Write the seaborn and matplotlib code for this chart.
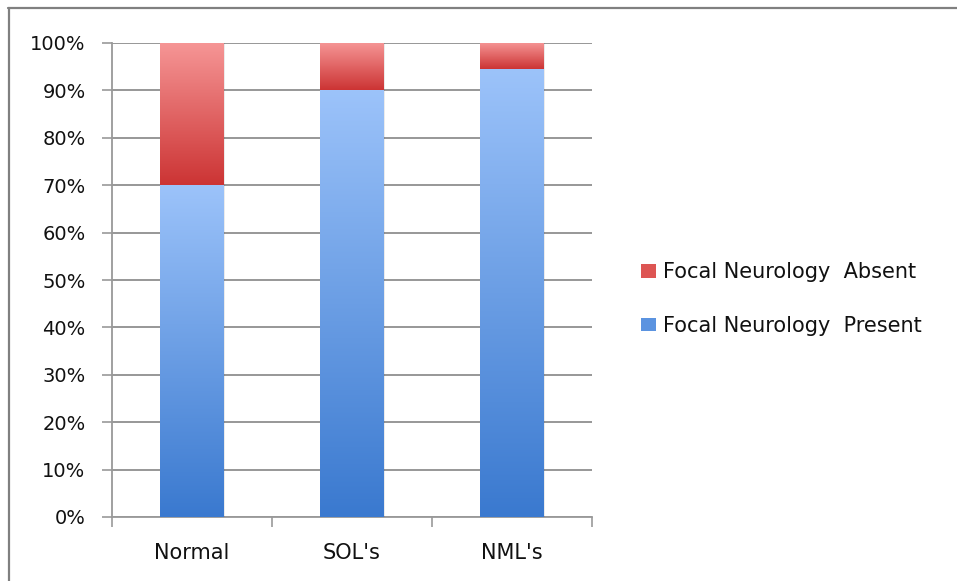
import numpy as np
import pandas as pd
import matplotlib
matplotlib.use("Agg")
import matplotlib.pyplot as plt
from matplotlib.colors import LinearSegmentedColormap
from matplotlib.lines import Line2D
from matplotlib.patches import Patch
import seaborn as sns

categories = ["Normal", "SOL's", "NML's"]
present = [70, 90, 94.5]
absent = [30, 10, 5.5]
series_labels = ["Focal Neurology  Absent", "Focal Neurology  Present"]
y_ticks = [0, 10, 20, 30, 40, 50, 60, 70, 80, 90, 100]

sns.set_theme(style="white")
plt.rcParams["font.family"] = ["DejaVu Sans"]

df = pd.DataFrame({"category": categories, "present": present, "absent": absent})
df["total"] = df["present"] + df["absent"]

fig = plt.figure(figsize=(9.57, 5.81), dpi=100)
ax = fig.add_axes([112 / 957, 1 - 517 / 581, 480 / 957, 474 / 581])

red_cmap = LinearSegmentedColormap.from_list("red_grad", ["#cc3434", "#f69696"])
blue_cmap = LinearSegmentedColormap.from_list("blue_grad", ["#3a79cf", "#9cc3fa"])

# stacked bars: full height (absent on top) then present in front
sns.barplot(data=df, x="category", y="total", color="#e05a58", width=0.4,
            ax=ax, zorder=3, saturation=1)
n_top = len(ax.patches)
sns.barplot(data=df, x="category", y="present", color="#6a9fe6", width=0.4,
            ax=ax, zorder=4, saturation=1)

grad = np.linspace(0, 1, 256).reshape(-1, 1)
for i, patch in enumerate(ax.patches):
    x0, y0 = patch.get_x(), patch.get_y()
    w, h = patch.get_width(), patch.get_height()
    if i < n_top:
        # red segment spans from the top of the blue part to the total
        lo = df["present"].iloc[i]
        hi = y0 + h
        cmap = red_cmap
        z = 3.5
    else:
        lo, hi = y0, y0 + h
        cmap = blue_cmap
        z = 4.5
    # soft shadow
    ax.add_patch(plt.Rectangle((x0 + 0.006, lo), w, hi - lo, facecolor="#000000",
                               alpha=0.08, edgecolor="none", zorder=z - 0.3))
    ax.imshow(grad, cmap=cmap, aspect="auto", origin="lower",
              extent=(x0, x0 + w, lo, hi), zorder=z, interpolation="bilinear")
    patch.set_visible(False)

ax.set_xlim(-0.5, 2.5)
ax.set_ylim(0, 100)
ax.set_yticks(y_ticks)
ax.set_yticklabels([f"{t}%" for t in y_ticks], fontsize=14, color="#111111")
ax.set_xlabel("")
ax.set_ylabel("")
ax.tick_params(axis="x", which="major", length=0, pad=19, labelsize=15, labelcolor="#111111")
ax.set_xticks([-0.5, 0.5, 1.5, 2.5], minor=True)
ax.tick_params(axis="x", which="minor", length=7, width=1.2, color="#999999", direction="out")
ax.tick_params(axis="y", length=7, width=1.2, color="#999999", direction="out", pad=12)
ax.xaxis.set_ticks_position("bottom")
ax.yaxis.set_ticks_position("left")

ax.yaxis.grid(True, color="#8f8f8f", linewidth=1.3, zorder=1)
ax.set_axisbelow(True)
for side in ["top", "right"]:
    ax.spines[side].set_visible(False)
for side in ["left", "bottom"]:
    ax.spines[side].set_color("#999999")
    ax.spines[side].set_linewidth(1.3)

handles = [Patch(facecolor="#dd5553", edgecolor="none"),
           Patch(facecolor="#5b93e0", edgecolor="none")]
fig.legend(handles, series_labels, loc="center left",
           bbox_to_anchor=(622 / 957, 1 - 299 / 581), frameon=False,
           fontsize=15, handlelength=0.75, handleheight=0.6, handletextpad=0.3,
           labelspacing=1.6, labelcolor="#111111")

# frame lines along the top and left edges
fig.add_artist(Line2D([8 / 957, 1], [1 - 8 / 581, 1 - 8 / 581],
                      transform=fig.transFigure, color="#808080", linewidth=1.6))
fig.add_artist(Line2D([9 / 957, 9 / 957], [0, 1 - 8 / 581],
                      transform=fig.transFigure, color="#808080", linewidth=1.6))

fig.savefig("out.png", dpi=100, facecolor="white")
